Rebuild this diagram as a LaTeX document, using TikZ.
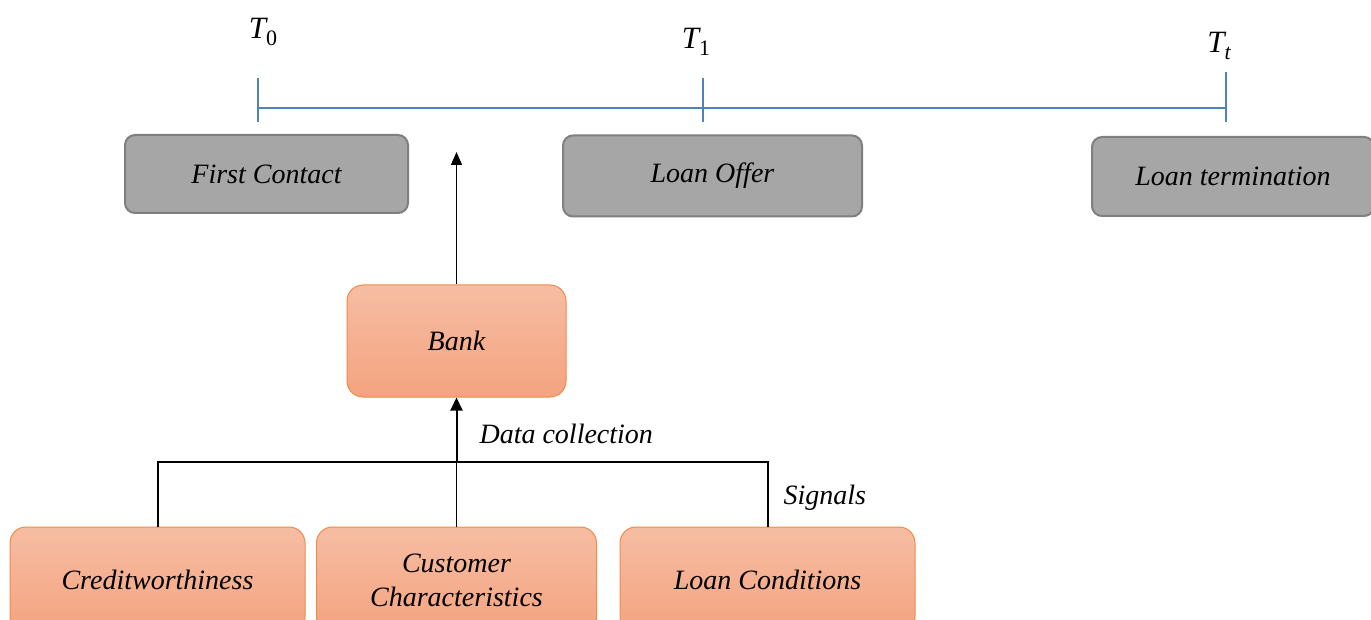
\documentclass[tikz,border=0pt]{standalone}
\usepackage{fontspec}
\setmainfont{Liberation Serif}
\usetikzlibrary{arrows.meta}
\definecolor{grayfill}{HTML}{A6A6A6}
\definecolor{grayline}{HTML}{7F7F7F}
\definecolor{orangetop}{HTML}{F6BDA3}
\definecolor{orangebot}{HTML}{F4A37F}
\definecolor{orangeline}{HTML}{F08A4B}
\definecolor{timeblue}{HTML}{4F81BD}
\newcommand{\tsub}[2]{{\fontsize{31}{36}\selectfont\itshape T}\raisebox{-7pt}{\fontsize{22}{24}\selectfont #1#2}}
\tikzset{
  txt/.style={font=\fontsize{28}{35}\selectfont\itshape, align=center},
  graybox/.style={txt, draw=grayline, line width=2pt, fill=grayfill, rounded corners=10pt, inner sep=0pt},
  orangebox/.style={txt, draw=orangeline, line width=1pt, top color=orangetop, bottom color=orangebot, rounded corners=16pt, inner sep=0pt},
  tl/.style={timeblue, line width=1.5pt},
  conn/.style={black, line width=1.5pt},
  lbl/.style={font=\fontsize{28}{35}\selectfont\itshape},
  tlabel/.style={inner sep=0pt}
}
\begin{document}
\begin{tikzpicture}[x=1pt,y=-1pt]
\useasboundingbox (0,0) rectangle (1371,620);
% timeline
\coordinate (t0) at (258,108);
\coordinate (t1) at (703,108);
\coordinate (tt) at (1226,108);
\draw[tl] (t0) -- (tt);
\draw[tl] (258,78) -- (258,122);
\draw[tl] (703,78) -- (703,122);
\draw[tl] (1226,72) -- (1226,122);
\node[tlabel] (l0) at (263,32) {\tsub{}{0}};
\node[tlabel] (l1) at (696,42) {\tsub{}{1}};
\node[tlabel] (lt) at (1219,46) {\tsub{\itshape}{t}};
% top boxes
\node[graybox, minimum width=283pt, minimum height=78pt] (fc) at (266.5,174) {First Contact};
\node[graybox, minimum width=299pt, minimum height=81pt] (lo) at (712.5,176) {Loan Offer};
\node[graybox, minimum width=282pt, minimum height=79pt] (lt2) at (1233,176.5) {Loan termination};
% bank
\node[orangebox, minimum width=219pt, minimum height=112pt] (bank) at (456.5,341) {Bank};
\coordinate (arrtip) at (456.5,152);
\draw[conn, -{Triangle[length=13pt,width=11pt]}] (bank.north) -- (arrtip);
% bottom boxes
\node[orangebox, minimum width=295pt, minimum height=106pt] (cw) at (157.5,580) {Creditworthiness};
\node[orangebox, minimum width=280pt, minimum height=106pt] (cc) at (456.5,580) {Customer\\[-1pt]Characteristics};
\node[orangebox, minimum width=295pt, minimum height=106pt] (lc) at (767.5,580) {Loan Conditions};
\coordinate (j) at (456.5,462);
\draw[conn, line width=1.2pt] (cw.north -| 158,0) |- (j);
\draw[conn, line width=1.2pt] (lc.north -| 768,0) |- (j);
\draw[conn, line width=1.2pt] (cc.north) -- (j);
\draw[conn, line width=2pt, -{Triangle[length=13pt,width=12pt]}] (j) -- (bank.south);
\node[lbl, anchor=west] (dc) at (476,434) {Data collection};
\node[lbl, anchor=west] (sg) at (780,498) {Signals};
\end{tikzpicture}
\end{document}
